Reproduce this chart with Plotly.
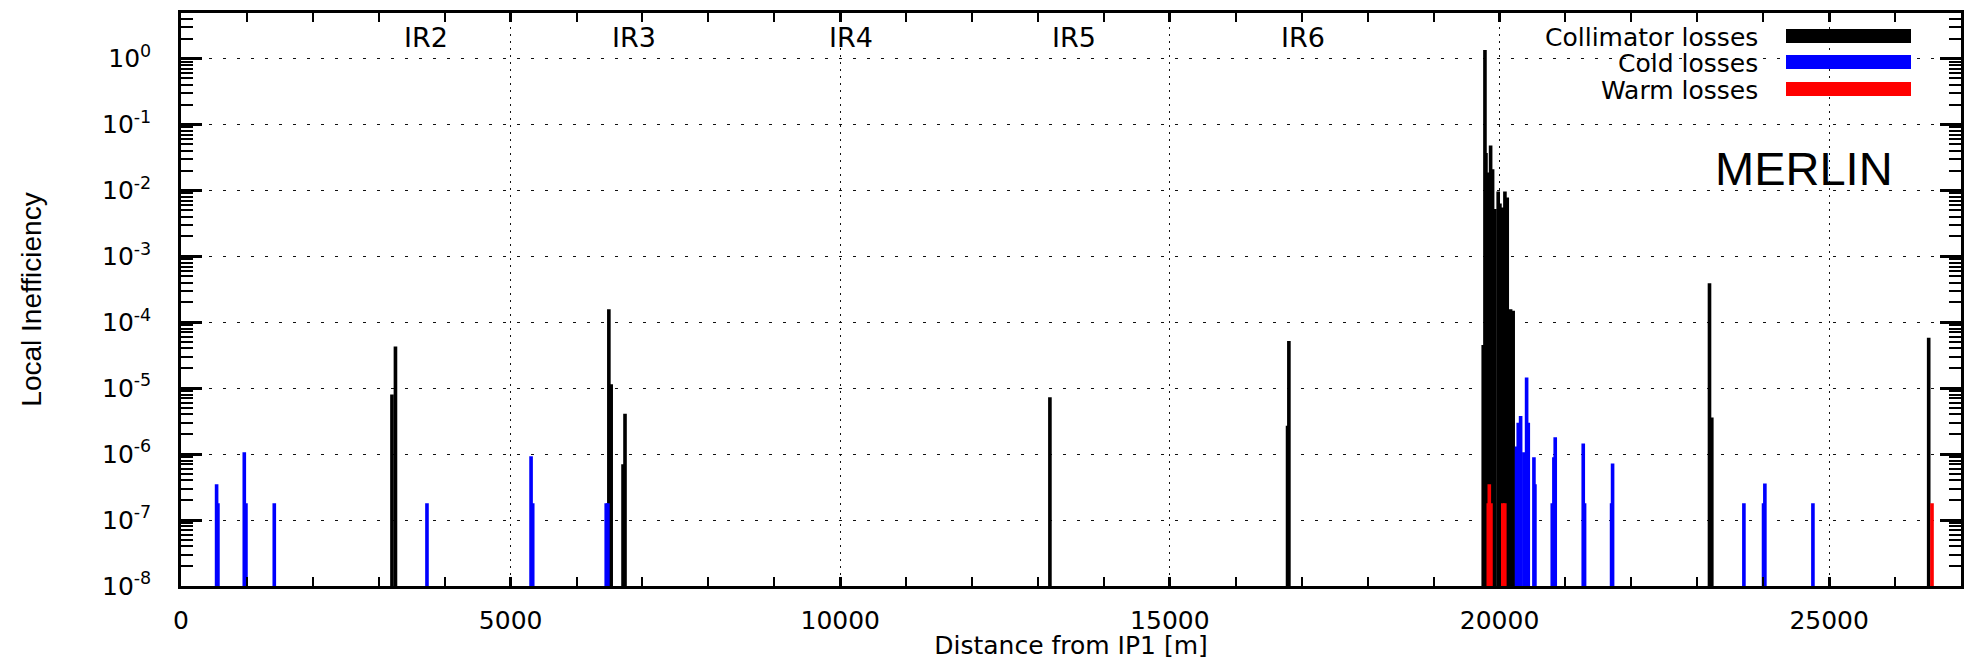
import math
import plotly.graph_objects as go

# ---------------- data ----------------
collimator_x = [3200, 3253, 6490, 6525, 6705, 6735, 13180, 16785, 16805,
                19753, 19779, 19794, 19813, 19865, 19895, 19930, 19980, 20006,
                20040, 20082, 20117, 20150, 20168, 20207, 23185, 23220, 26510]
collimator_y = [8e-6, 4.3e-5, 1.58e-4, 1.15e-5, 7e-7, 4.1e-6, 7.3e-6, 2.7e-6, 5.2e-5,
                4.5e-5, 1.35, 0.037, 0.0186, 0.048, 0.021, 0.0052, 0.0096, 0.0063,
                0.0055, 0.0096, 0.0078, 8e-5, 1.58e-4, 1.5e-4, 3.9e-4, 3.6e-6, 5.8e-5]

cold_x = [540, 560, 960, 985, 1415, 3731, 5310, 5335, 6450, 6475,
          20259, 20284, 20320, 20370, 20411, 20436, 20522, 20537,
          20800, 20825, 20845, 21270, 21290, 21700, 21715,
          23707, 24005, 24025, 24754]
cold_y = [3.5e-7, 1.8e-7, 1.07e-6, 1.8e-7, 1.8e-7, 1.8e-7, 9.3e-7, 1.8e-7, 1.8e-7, 1.8e-7,
          1.3e-6, 3e-6, 3.8e-6, 1.07e-6, 1.45e-5, 3e-6, 9e-7, 3.5e-7,
          1.8e-7, 9e-7, 1.8e-6, 1.45e-6, 1.8e-7, 1.8e-7, 7.2e-7,
          1.8e-7, 1.8e-7, 3.6e-7, 1.8e-7]

warm_x = [19830, 19845, 19870, 20050, 20080, 26560]
warm_y = [1.8e-7, 3.5e-7, 1.8e-7, 1.8e-7, 1.8e-7, 1.8e-7]

series_names = ["Collimator losses", "Cold losses", "Warm losses"]
series_colors = ["#000000", "#0000ff", "#ff0000"]

ir_names = ["IR2", "IR3", "IR4", "IR5", "IR6"]
ir_x = [3716, 6871, 10162, 13545, 17018]

x_tick_vals = [0, 5000, 10000, 15000, 20000, 25000]
x_tick_text = ["0", "5000", "10000", "15000", "20000", "25000"]
y_exponents = [-8, -7, -6, -5, -4, -3, -2, -1, 0]

# ---------------- figure geometry ----------------
OFF = 8                      # page body margin of the html page
W, H = 1972 - OFF, 660 - OFF
ML, MR, MT, MB = 181 - OFF, 11, 13 - OFF, 82 - OFF
PW, PH = W - ML - MR, H - MT - MB
Y_RANGE = [-8, 0.69]


def px_x(p):
    return (p - OFF - ML) / PW


def px_y(p):
    return (H - MB - (p - OFF)) / PH


fig = go.Figure()
for name, xs, ys, col in zip(series_names,
                             [collimator_x, cold_x, warm_x],
                             [collimator_y, cold_y, warm_y],
                             series_colors):
    fig.add_trace(go.Bar(x=xs, y=ys, width=55, name=name,
                         marker=dict(color=col, line=dict(width=0)),
                         showlegend=False))

# empty helper trace so the overlaid minor-tick axis exists
fig.add_trace(go.Scatter(x=[None], y=[None], yaxis="y2", mode="lines",
                         showlegend=False, hoverinfo="skip"))

tick_font = dict(family="DejaVu Sans", size=25, color="black")
minor_log_ticks = [e + math.log10(k) for e in range(-9, 1) for k in range(2, 10)
                   if Y_RANGE[0] < e + math.log10(k) < Y_RANGE[1]]

fig.update_layout(
    width=W, height=H, autosize=False,
    margin=dict(l=ML, r=MR, t=MT, b=MB, pad=0, autoexpand=False),
    paper_bgcolor="white", plot_bgcolor="white",
    barmode="overlay",
    showlegend=False,
    xaxis=dict(
        range=[0, 27000], automargin=False,
        tickvals=x_tick_vals, ticktext=x_tick_text,
        ticks="inside", ticklen=9, tickwidth=2.5, tickcolor="black",
        showline=True, linecolor="black", linewidth=2.5, mirror="allticks",
        showgrid=True, gridcolor="#111", gridwidth=1, griddash="2px,5px",
        zeroline=False,
        tickfont=tick_font, ticklabelstandoff=10,
        minor=dict(dtick=1000, tick0=0, ticks="inside", ticklen=5, tickwidth=2,
                   tickcolor="black", showgrid=False),
        title=dict(text="Distance from IP1 [m]",
                   font=dict(family="DejaVu Sans", size=25, color="black"),
                   standoff=14),
    ),
    yaxis=dict(
        type="log", range=Y_RANGE, automargin=False,
        tickvals=[10.0 ** e for e in y_exponents],
        ticktext=["10<sup>%d</sup>" % e for e in y_exponents],
        ticks="inside", ticklen=21, tickwidth=2.5, tickcolor="black",
        showline=True, linecolor="black", linewidth=2.5, mirror="allticks",
        showgrid=True, gridcolor="#111", gridwidth=1, griddash="3px,11px",
        zeroline=False,
        tickfont=tick_font, ticklabelstandoff=22,
        title=dict(text="Local Inefficiency",
                   font=dict(family="Liberation Sans, Arial", size=28, color="black"),
                   standoff=53),
    ),
    yaxis2=dict(
        overlaying="y", side="left", range=Y_RANGE, automargin=False,
        tickmode="array", tickvals=minor_log_ticks, showticklabels=False,
        ticks="inside", ticklen=12, tickwidth=2, tickcolor="black",
        showline=True, linecolor="black", linewidth=2.5, mirror="allticks",
        showgrid=False, zeroline=False, fixedrange=True,
    ),
)

# legend drawn by hand (text left, long swatch right, white box over grid)
shapes = [dict(type="rect", xref="paper", yref="paper",
               x0=px_x(1385), x1=px_x(1925), y0=px_y(100), y1=1.0,
               fillcolor="white", line=dict(width=0), layer="between")]
annotations = []
row_y = [36, 62, 89]
for name, col, ry in zip(series_names, series_colors, row_y):
    shapes.append(dict(type="rect", xref="paper", yref="paper",
                       x0=px_x(1786), x1=px_x(1911), y0=px_y(ry + 7), y1=px_y(ry - 7),
                       fillcolor=col, line=dict(width=0), layer="above"))
    annotations.append(dict(xref="paper", yref="paper", x=px_x(1760), y=px_y(ry + 1),
                            text=name, showarrow=False, xanchor="right", yanchor="middle",
                            font=dict(family="DejaVu Sans", size=25, color="black")))

for lab, xv in zip(ir_names, ir_x):
    annotations.append(dict(xref="x", yref="paper", x=xv, y=px_y(37),
                            text=lab, showarrow=False, xanchor="center", yanchor="middle",
                            font=dict(family="DejaVu Sans", size=27, color="black")))

annotations.append(dict(xref="paper", yref="paper", x=px_x(1804), y=px_y(169),
                        text="MERLIN", showarrow=False, xanchor="center", yanchor="middle",
                        font=dict(family="Liberation Sans, Arial", size=47, color="black")))

fig.update_layout(shapes=shapes, annotations=annotations)

fig.write_html("out.html")
